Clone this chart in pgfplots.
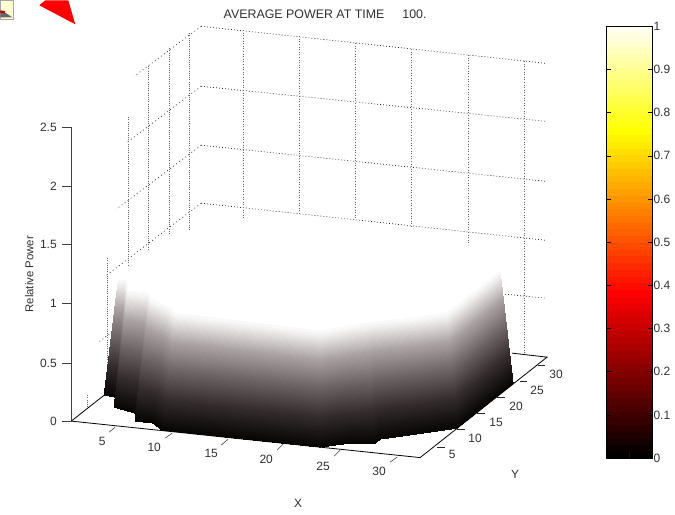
\documentclass[border=0pt]{standalone}
\usepackage{fontspec}
\setmainfont{Liberation Sans}
\usepackage{pgfplots}
\pgfplotsset{compat=1.18}
\usepgfplotslibrary{patchplots}
\definecolor{txt}{HTML}{303030}
\definecolor{grd}{HTML}{202020}
\pgfplotsset{
  colormap={bwramp}{rgb(0cm)=(0.03,0.02,0.02) rgb(5cm)=(0.2,0.17,0.17) rgb(10cm)=(0.42,0.39,0.39) rgb(15cm)=(0.67,0.64,0.64) rgb(18cm)=(0.88,0.86,0.86) rgb(20cm)=(1,1,1)},
}
\begin{document}
\begin{tikzpicture}[x=1pt,y=1pt]
\begin{axis}[
  name=main, at={(0pt,0pt)}, anchor=south west,
  scale only axis, width=675pt, height=514pt,
  xmin=0, xmax=675, ymin=0, ymax=514, y dir=reverse,
  hide axis, clip=false,
  colormap name=bwramp,
  point meta min=0, point meta max=1,
]
% page frame (invisible)
\addplot[draw=none, fill=none, forget plot] coordinates {(0,0) (675,0) (675,514) (0,514) (0,0)};
% icon and red pointer
\addplot[draw=gray!70, fill=yellow!18, line width=0.6pt] coordinates {(0,0) (13.5,0) (13.5,19) (0,19) (0,0)};
\addplot[draw=none, fill=gray!80!black] coordinates {(0,11) (6,13) (12,17) (0,17)};
\addplot[draw=none, fill=red!70!black] coordinates {(0,10) (5,11) (4,13) (0,12.5)};
\addplot[draw=none, fill=red] coordinates {(45,0) (68,0) (75,24) (39,5)};
% back wall grid
\addplot[grd, line width=0.7pt, dash pattern=on 0.8pt off 2.2pt] coordinates {(201,26) (545,63)};
\addplot[grd, line width=0.7pt, dash pattern=on 0.8pt off 2.2pt] coordinates {(201,86) (545,121)};
\addplot[grd, line width=0.7pt, dash pattern=on 0.8pt off 2.2pt] coordinates {(201,145) (545,181)};
\addplot[grd, line width=0.7pt, dash pattern=on 0.8pt off 2.2pt] coordinates {(201,203) (545,240)};
\addplot[grd, line width=0.7pt, dash pattern=on 0.8pt off 2.2pt] coordinates {(505,294) (545,298)};
% left wall grid
\addplot[grd, line width=0.7pt, dash pattern=on 0.8pt off 3pt] coordinates {(201,26) (134,76)};
\addplot[grd, line width=0.7pt, dash pattern=on 0.8pt off 3pt] coordinates {(201,86) (127,142)};
\addplot[grd, line width=0.7pt, dash pattern=on 0.8pt off 3pt] coordinates {(201,145) (116,209)};
\addplot[grd, line width=0.7pt, dash pattern=on 0.8pt off 3pt] coordinates {(201,203) (105,276)};
\addplot[grd, line width=0.7pt, dash pattern=on 0.8pt off 3pt] coordinates {(118,327) (97,343)};
% verticals
\addplot[grd!70, line width=0.7pt, dash pattern=on 0.8pt off 1.4pt] coordinates {(107,258) (107,377)};
\addplot[grd!70, line width=0.7pt, dash pattern=on 0.8pt off 1.4pt] coordinates {(128,117) (128,267)};
\addplot[grd!70, line width=0.7pt, dash pattern=on 0.8pt off 1.4pt] coordinates {(148,66) (148,250)};
\addplot[grd!70, line width=0.7pt, dash pattern=on 0.8pt off 1.4pt] coordinates {(169,48) (169,235)};
\addplot[grd!70, line width=0.7pt, dash pattern=on 0.8pt off 1.4pt] coordinates {(189,33) (189,230)};
\addplot[grd!70, line width=0.7pt, dash pattern=on 0.8pt off 1.4pt] coordinates {(87,395) (87,407)};
\addplot[grd!70, line width=0.7pt, dash pattern=on 0.8pt off 1.8pt] coordinates {(243,30) (243,220)};
\addplot[grd!70, line width=0.7pt, dash pattern=on 0.8pt off 1.8pt] coordinates {(299,36) (299,215)};
\addplot[grd!70, line width=0.7pt, dash pattern=on 0.8pt off 1.8pt] coordinates {(355,43) (355,220)};
\addplot[grd!70, line width=0.7pt, dash pattern=on 0.8pt off 1.8pt] coordinates {(411,49) (411,227)};
\addplot[grd!70, line width=0.7pt, dash pattern=on 0.8pt off 1.8pt] coordinates {(468,55) (468,245)};
\addplot[grd!70, line width=0.7pt, dash pattern=on 0.8pt off 1.8pt] coordinates {(524,61) (524,353)};
% axes box
\addplot[black!75, line width=0.8pt] coordinates {(71,127) (71,421)};
\addplot[black, line width=0.8pt] coordinates {(71,421) (420,457.5) (547,357) (512,353)};
\addplot[black, line width=0.8pt] coordinates {(71,421) (104,395)};
% z ticks
\addplot[black!75, line width=0.7pt] coordinates {(62,127) (71,127)};
\addplot[black!75, line width=0.7pt] coordinates {(62,186) (71,186)};
\addplot[black!75, line width=0.7pt] coordinates {(62,244) (71,244)};
\addplot[black!75, line width=0.7pt] coordinates {(62,303) (71,303)};
\addplot[black!75, line width=0.7pt] coordinates {(62,363) (71,363)};
\addplot[black!75, line width=0.7pt] coordinates {(62,421) (71,421)};
% x ticks
\addplot[black!75, line width=0.6pt] coordinates {(115,427) (109,432)};
\addplot[black!75, line width=0.6pt] coordinates {(172,433) (165,438)};
\addplot[black!75, line width=0.6pt] coordinates {(228,439) (221,445)};
\addplot[black!75, line width=0.6pt] coordinates {(283,444) (277,450)};
\addplot[black!75, line width=0.6pt] coordinates {(340,450) (334,456)};
\addplot[black!75, line width=0.6pt] coordinates {(397,457) (390,462)};
% y ticks
\addplot[black!85, line width=0.7pt] coordinates {(437,447) (445,447)};
\addplot[black!85, line width=0.7pt] coordinates {(457,429) (465,429)};
\addplot[black!85, line width=0.7pt] coordinates {(477,413) (485,413)};
\addplot[black!85, line width=0.7pt] coordinates {(497,397) (505,397)};
\addplot[black!85, line width=0.7pt] coordinates {(520,381) (527,381)};
\addplot[black!85, line width=0.7pt] coordinates {(538,365) (545,365)};
% white plateau of the surface
\addplot[draw=none, fill=white] coordinates {(118,281) (128,267) (148,250) (169,235) (189,230) (243,220) (299,215) (355,220) (411,227) (468,245) (488,258) (500,272) (447,314) (320,332) (175,314)};
% shaded surface: bottom (meta 0) to top (meta 1)
\addplot[patch, patch type=bilinear, shader=interp, point meta=explicit] coordinates {
(104,395) [0] (115,397) [0] (126,280) [1] (118,280) [1]
(115,397) [0] (114,407) [0] (128,291) [1] (126,280) [1]
(114,407) [0] (135,413) [0] (148,293) [1] (128,291) [1]
(135,413) [0] (135,421) [0] (150,298) [1] (148,293) [1]
(135,421) [0] (153,423) [0] (168,307) [1] (150,298) [1]
(153,423) [0] (162,430) [0] (175,313) [1] (168,307) [1]
(162,430) [0] (240,438.5) [0] (248,322) [1] (175,313) [1]
(240,438.5) [0] (320,447) [0] (320,331) [1] (248,322) [1]
(320,447) [0] (350,443) [0] (348,326) [1] (320,331) [1]
(350,443) [0] (375,443) [0] (367,323) [1] (348,326) [1]
(375,443) [0] (380,439) [0] (372,322) [1] (367,323) [1]
(380,439) [0] (423,433) [0] (413,318) [1] (372,322) [1]
(423,433) [0] (457,428) [0] (447,313) [1] (413,318) [1]
(457,428) [0] (513,383) [0] (500,271) [1] (447,313) [1]
};
% text
\node[txt, font=\fontsize{12.4}{14}\selectfont, anchor=west] at (axis cs:220,14) {AVERAGE POWER AT TIME\hspace{18pt}100.};
\node[txt, font=\fontsize{11.4}{13}\selectfont, rotate=90] at (axis cs:29,274) {Relative Power};
\node[txt, font=\fontsize{12}{14}\selectfont] at (axis cs:298,503) {X};
\node[txt, font=\fontsize{12}{14}\selectfont] at (axis cs:515,474) {Y};
\foreach \lab/\yy in {2.5/127,2/186,1.5/244,1/303,0.5/363,0/421}{
  \edef\tmp{\noexpand\node[txt, font=\noexpand\fontsize{12}{14}\noexpand\selectfont, anchor=east] at (axis cs:60,\yy) {\lab};}\tmp
}
\foreach \lab/\xx/\yy in {5/102/441,10/154/447,15/211/453,20/266/459,25/323/466,30/379/471,5/452/454,10/475/438,15/496/422,20/516/406,25/537/390,30/556/374}{
  \edef\tmp{\noexpand\node[txt, font=\noexpand\fontsize{12}{14}\noexpand\selectfont] at (axis cs:\xx,\yy) {\lab};}\tmp
}
\end{axis}
\begin{axis}[
  at={(606.5pt,56pt)}, anchor=south west,
  scale only axis, width=45.5pt, height=432pt,
  xmin=0, xmax=2, ymin=0, ymax=64,
  xtick=\empty,
  ytick={0,6.4,12.8,19.2,25.6,32,38.4,44.8,51.2,57.6,64},
  yticklabels={0,0.1,0.2,0.3,0.4,0.5,0.6,0.7,0.8,0.9,1},
  tick align=inside, major tick length=4pt, y tick style={black, line width=0.6pt},
  ytick pos=both, yticklabel pos=right,
  yticklabel style={txt, font=\fontsize{12}{14}\selectfont, xshift=-2pt},
  /pgf/number format/assume math mode=true,
  axis line style={black, line width=0.8pt},
  colormap={hotm}{rgb(0)=(0,0,0) rgb(24)=(1,0,0) rgb(48)=(1,1,0) rgb(64)=(1,1,1)},
  point meta min=0, point meta max=64,
  axis on top,
]
\addplot[matrix plot*, mesh/cols=2, point meta=\thisrow{m}] table[row sep=\\] {
x y m\\
0.5 0.5 0\\ 1.5 0.5 0\\ 0.5 1.5 1\\ 1.5 1.5 1\\ 0.5 2.5 2\\ 1.5 2.5 2\\ 0.5 3.5 3\\ 1.5 3.5 3\\
0.5 4.5 4\\ 1.5 4.5 4\\ 0.5 5.5 5\\ 1.5 5.5 5\\ 0.5 6.5 6\\ 1.5 6.5 6\\ 0.5 7.5 7\\ 1.5 7.5 7\\
0.5 8.5 8\\ 1.5 8.5 8\\ 0.5 9.5 9\\ 1.5 9.5 9\\ 0.5 10.5 10\\ 1.5 10.5 10\\ 0.5 11.5 11\\ 1.5 11.5 11\\
0.5 12.5 12\\ 1.5 12.5 12\\ 0.5 13.5 13\\ 1.5 13.5 13\\ 0.5 14.5 14\\ 1.5 14.5 14\\ 0.5 15.5 15\\ 1.5 15.5 15\\
0.5 16.5 16\\ 1.5 16.5 16\\ 0.5 17.5 17\\ 1.5 17.5 17\\ 0.5 18.5 18\\ 1.5 18.5 18\\ 0.5 19.5 19\\ 1.5 19.5 19\\
0.5 20.5 20\\ 1.5 20.5 20\\ 0.5 21.5 21\\ 1.5 21.5 21\\ 0.5 22.5 22\\ 1.5 22.5 22\\ 0.5 23.5 23\\ 1.5 23.5 23\\
0.5 24.5 24\\ 1.5 24.5 24\\ 0.5 25.5 25\\ 1.5 25.5 25\\ 0.5 26.5 26\\ 1.5 26.5 26\\ 0.5 27.5 27\\ 1.5 27.5 27\\
0.5 28.5 28\\ 1.5 28.5 28\\ 0.5 29.5 29\\ 1.5 29.5 29\\ 0.5 30.5 30\\ 1.5 30.5 30\\ 0.5 31.5 31\\ 1.5 31.5 31\\
0.5 32.5 32\\ 1.5 32.5 32\\ 0.5 33.5 33\\ 1.5 33.5 33\\ 0.5 34.5 34\\ 1.5 34.5 34\\ 0.5 35.5 35\\ 1.5 35.5 35\\
0.5 36.5 36\\ 1.5 36.5 36\\ 0.5 37.5 37\\ 1.5 37.5 37\\ 0.5 38.5 38\\ 1.5 38.5 38\\ 0.5 39.5 39\\ 1.5 39.5 39\\
0.5 40.5 40\\ 1.5 40.5 40\\ 0.5 41.5 41\\ 1.5 41.5 41\\ 0.5 42.5 42\\ 1.5 42.5 42\\ 0.5 43.5 43\\ 1.5 43.5 43\\
0.5 44.5 44\\ 1.5 44.5 44\\ 0.5 45.5 45\\ 1.5 45.5 45\\ 0.5 46.5 46\\ 1.5 46.5 46\\ 0.5 47.5 47\\ 1.5 47.5 47\\
0.5 48.5 48\\ 1.5 48.5 48\\ 0.5 49.5 49\\ 1.5 49.5 49\\ 0.5 50.5 50\\ 1.5 50.5 50\\ 0.5 51.5 51\\ 1.5 51.5 51\\
0.5 52.5 52\\ 1.5 52.5 52\\ 0.5 53.5 53\\ 1.5 53.5 53\\ 0.5 54.5 54\\ 1.5 54.5 54\\ 0.5 55.5 55\\ 1.5 55.5 55\\
0.5 56.5 56\\ 1.5 56.5 56\\ 0.5 57.5 57\\ 1.5 57.5 57\\ 0.5 58.5 58\\ 1.5 58.5 58\\ 0.5 59.5 59\\ 1.5 59.5 59\\
0.5 60.5 60\\ 1.5 60.5 60\\ 0.5 61.5 61\\ 1.5 61.5 61\\ 0.5 62.5 62\\ 1.5 62.5 62\\ 0.5 63.5 63\\ 1.5 63.5 63\\
};
\end{axis}
\end{tikzpicture}
\end{document}
